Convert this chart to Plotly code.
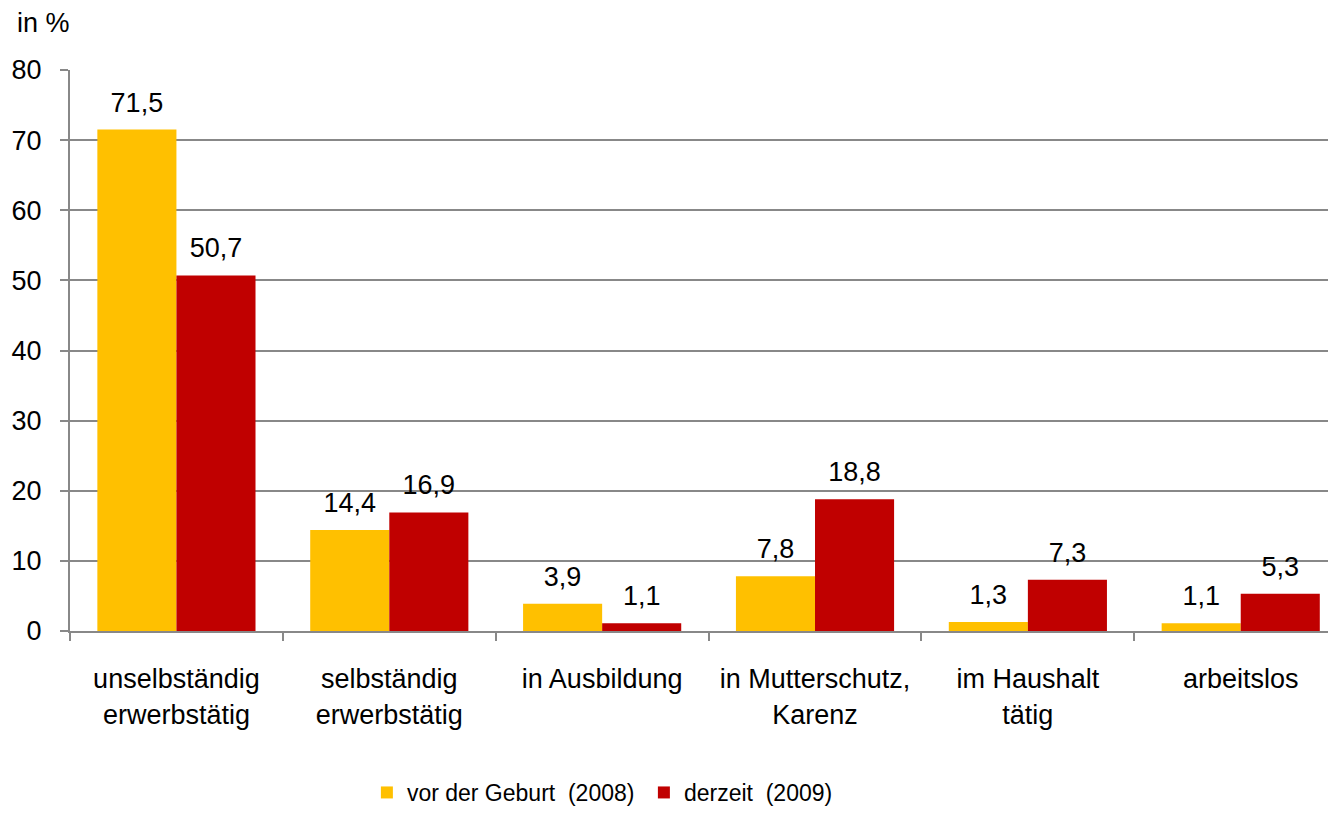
import plotly.graph_objects as go

categories = ["unselbständig<br>erwerbstätig", "selbständig<br>erwerbstätig", "in Ausbildung",
              "in Mutterschutz,<br>Karenz", "im Haushalt<br>tätig", "arbeitslos"]
vor_geburt = [71.5, 14.4, 3.9, 7.8, 1.3, 1.1]
derzeit = [50.7, 16.9, 1.1, 18.8, 7.3, 5.3]
series_names = ["vor der Geburt  (2008)", "derzeit  (2009)"]
colors = ["#FFC000", "#C00000"]
y_ticks = [0, 10, 20, 30, 40, 50, 60, 70, 80]

FONT = "Liberation Sans, Arial, sans-serif"
FS = 27

fig = go.Figure()
for name, vals, col in zip(series_names, [vor_geburt, derzeit], colors):
    fig.add_trace(go.Bar(
        x=categories, y=vals, name=name,
        marker=dict(color=col, line=dict(width=0)),
        texttemplate="<span style='font-size:27px'>%{y:.1f}</span><br> ",
        textposition="outside", constraintext="none",
        textfont=dict(family=FONT, size=10, color="#000000"),
        cliponaxis=False,
    ))

fig.update_layout(
    width=1328, height=814,
    margin=dict(l=70, r=0, t=70, b=182),
    paper_bgcolor="white", plot_bgcolor="white",
    separators=",.",
    barmode="group", bargap=0.257, bargroupgap=0,
    font=dict(family=FONT, size=FS, color="#000000"),
    showlegend=True,
    legend=dict(orientation="h", x=0.236, xanchor="left", y=-0.288, yanchor="middle",
                font=dict(family=FONT, size=23, color="#000000"),
                traceorder="normal", entrywidth=232),
    xaxis=dict(range=[-0.5, 5.41], showgrid=False, showline=True, linecolor="#888888", linewidth=2,
               ticks="outside", tickson="boundaries", ticklen=8, tickcolor="#888888", tickwidth=2,
               automargin=False,
               ticklabelstandoff=23, tickfont=dict(family=FONT, size=FS, color="#000000")),
    yaxis=dict(range=[0, 80], tickvals=y_ticks, showgrid=True, gridcolor="#888888", gridwidth=2,
               showline=True, linecolor="#888888", linewidth=2, zeroline=False,
               ticks="outside", ticklen=8, tickcolor="#888888", tickwidth=2, automargin=False,
               ticklabelstandoff=13, tickfont=dict(family=FONT, size=FS, color="#000000")),
    annotations=[dict(text="in %", xref="paper", yref="paper", x=0, y=1, xanchor="right",
                      yanchor="bottom", yshift=30, xshift=2, showarrow=False,
                      font=dict(family=FONT, size=FS, color="#000000"))],
)

fig.write_html("out.html", config={"displayModeBar": False},
               post_script="document.body.style.margin='0px';")
